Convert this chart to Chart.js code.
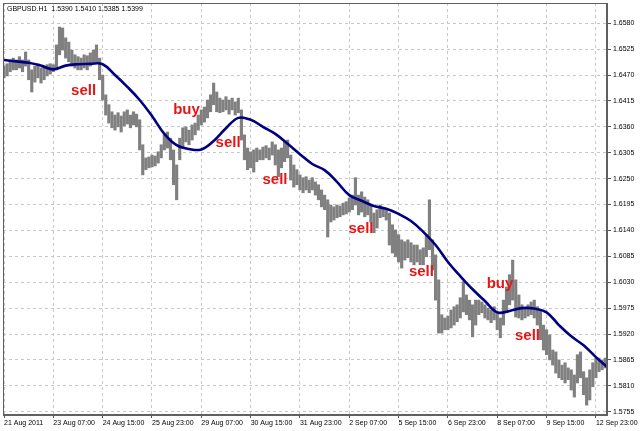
<!DOCTYPE html>
<html>
<head>
<meta charset="utf-8">
<script src="https://cdn.jsdelivr.net/npm/chart.js@4.4.0/dist/chart.umd.min.js"></script>
<style>
  html, body { margin: 0; padding: 0; background: #fff; }
  canvas { display: block; }
</style>
</head>
<body>
<canvas id="chart" width="640" height="431"></canvas>
<script>
// GBPUSD H1, each entry = 2 hourly bars (high / low)
const symbol = 'GBPUSD.H1';
const lastQuote = ['1.5390', '1.5410', '1.5385', '1.5399'];

const timeLabels = ['21 Aug 2011', '23 Aug 07:00', '24 Aug 15:00', '25 Aug 23:00', '29 Aug 07:00',
  '30 Aug 15:00', '31 Aug 23:00', '2 Sep 07:00', '5 Sep 15:00', '6 Sep 23:00', '8 Sep 07:00',
  '9 Sep 15:00', '12 Sep 23:00'];
const labelEvery = 16;

const priceTicks = [1.5755, 1.5810, 1.5865, 1.5920, 1.5975, 1.6030, 1.6085, 1.6140,
  1.6195, 1.6250, 1.6305, 1.6360, 1.6415, 1.6470, 1.6525, 1.6580];

const highs = [
  1.6489, 1.6494, 1.6502, 1.6506, 1.6502, 1.6509, 1.6502, 1.6519, 1.6502, 1.6481,
  1.6489, 1.6494, 1.6485, 1.6489, 1.6492, 1.6494, 1.6492, 1.6534, 1.6572, 1.6570,
  1.6549, 1.6540, 1.6523, 1.6513, 1.6509, 1.6506, 1.6513, 1.6511, 1.6517, 1.6523,
  1.6534, 1.6506, 1.6470, 1.6428, 1.6407, 1.6392, 1.6385, 1.6390, 1.6383, 1.6392,
  1.6396, 1.6385, 1.6392, 1.6387, 1.6375, 1.6322, 1.6294, 1.6296, 1.6300, 1.6298,
  1.6307, 1.6322, 1.6343, 1.6349, 1.6336, 1.6311, 1.6279, 1.6336, 1.6358, 1.6360,
  1.6353, 1.6364, 1.6368, 1.6385, 1.6396, 1.6402, 1.6417, 1.6428, 1.6453, 1.6434,
  1.6421, 1.6417, 1.6424, 1.6417, 1.6421, 1.6413, 1.6421, 1.6396, 1.6343, 1.6315,
  1.6307, 1.6311, 1.6315, 1.6311, 1.6317, 1.6320, 1.6315, 1.6328, 1.6322, 1.6311,
  1.6315, 1.6328, 1.6332, 1.6300, 1.6279, 1.6269, 1.6258, 1.6252, 1.6254, 1.6247,
  1.6252, 1.6243, 1.6237, 1.6226, 1.6215, 1.6205, 1.6194, 1.6190, 1.6194, 1.6192,
  1.6198, 1.6201, 1.6209, 1.6215, 1.6252, 1.6215, 1.6222, 1.6211, 1.6205, 1.6194,
  1.6177, 1.6184, 1.6194, 1.6188, 1.6184, 1.6177, 1.6152, 1.6141, 1.6131, 1.6120,
  1.6116, 1.6120, 1.6114, 1.6109, 1.6109, 1.6099, 1.6103, 1.6131, 1.6205, 1.6120,
  1.6088, 1.6035, 1.5961, 1.5954, 1.5958, 1.5971, 1.5978, 1.5982, 1.5997, 1.6031,
  1.6003, 1.5992, 1.5982, 1.5992, 1.5992, 1.5988, 1.5982, 1.5975, 1.5971, 1.5978,
  1.5967, 1.5954, 1.5992, 1.6020, 1.6046, 1.6077, 1.6035, 1.6003, 1.5982, 1.5975,
  1.5982, 1.5988, 1.5992, 1.5978, 1.5971, 1.5939, 1.5929, 1.5918, 1.5886, 1.5882,
  1.5865, 1.5854, 1.5859, 1.5848, 1.5844, 1.5833, 1.5876, 1.5882, 1.5840, 1.5827,
  1.5844, 1.5859, 1.5869, 1.5869, 1.5865, 1.5869
];
const lows = [
  1.6464, 1.6468, 1.6477, 1.6481, 1.6481, 1.6485, 1.6477, 1.6489, 1.6460, 1.6434,
  1.6455, 1.6464, 1.6453, 1.6460, 1.6468, 1.6472, 1.6477, 1.6485, 1.6513, 1.6523,
  1.6506, 1.6498, 1.6489, 1.6485, 1.6481, 1.6481, 1.6485, 1.6481, 1.6489, 1.6494,
  1.6498, 1.6460, 1.6417, 1.6385, 1.6368, 1.6358, 1.6353, 1.6360, 1.6349, 1.6362,
  1.6366, 1.6358, 1.6364, 1.6360, 1.6311, 1.6258, 1.6269, 1.6273, 1.6275, 1.6277,
  1.6283, 1.6294, 1.6311, 1.6315, 1.6290, 1.6237, 1.6205, 1.6290, 1.6315, 1.6328,
  1.6322, 1.6332, 1.6343, 1.6353, 1.6364, 1.6370, 1.6379, 1.6392, 1.6407, 1.6392,
  1.6390, 1.6392, 1.6396, 1.6387, 1.6396, 1.6385, 1.6390, 1.6332, 1.6290, 1.6269,
  1.6273, 1.6264, 1.6286, 1.6290, 1.6290, 1.6294, 1.6290, 1.6300, 1.6279, 1.6254,
  1.6273, 1.6286, 1.6294, 1.6247, 1.6232, 1.6237, 1.6226, 1.6220, 1.6226, 1.6220,
  1.6226, 1.6215, 1.6205, 1.6190, 1.6184, 1.6126, 1.6158, 1.6162, 1.6167, 1.6169,
  1.6173, 1.6175, 1.6179, 1.6184, 1.6194, 1.6173, 1.6179, 1.6169, 1.6173, 1.6158,
  1.6135, 1.6145, 1.6167, 1.6169, 1.6162, 1.6109, 1.6092, 1.6084, 1.6073, 1.6060,
  1.6077, 1.6082, 1.6073, 1.6067, 1.6073, 1.6067, 1.6067, 1.6084, 1.6099, 1.6056,
  1.5992, 1.5922, 1.5922, 1.5929, 1.5929, 1.5933, 1.5939, 1.5946, 1.5954, 1.5967,
  1.5961, 1.5950, 1.5914, 1.5939, 1.5961, 1.5965, 1.5954, 1.5950, 1.5944, 1.5950,
  1.5929, 1.5912, 1.5939, 1.5965, 1.5982, 1.5992, 1.5956, 1.5954, 1.5950, 1.5954,
  1.5958, 1.5961, 1.5954, 1.5939, 1.5908, 1.5886, 1.5876, 1.5865, 1.5854, 1.5837,
  1.5827, 1.5823, 1.5816, 1.5823, 1.5801, 1.5786, 1.5816, 1.5827, 1.5791, 1.5769,
  1.5780, 1.5808, 1.5827, 1.5840, 1.5844, 1.5848
];

// moving average, one value every 4 entries
const maEvery = 4;
const maValues = [
  1.6502, 1.6499, 1.6496, 1.6490, 1.6482, 1.6490, 1.6493, 1.6494, 1.6493, 1.6470,
  1.6445, 1.6417, 1.6383, 1.6345, 1.6321, 1.6313, 1.6312, 1.6330, 1.6357, 1.6379,
  1.6375, 1.6360, 1.6345, 1.6324, 1.6302, 1.6281, 1.6268, 1.6243, 1.6215, 1.6203,
  1.6192, 1.6186, 1.6175, 1.6160, 1.6137, 1.6109, 1.6073, 1.6043, 1.6015, 1.5990,
  1.5966, 1.5969, 1.5975, 1.5974, 1.5966, 1.5939, 1.5915, 1.5896, 1.5871, 1.5848
];

const signalText = ['sell', 'buy', 'sell', 'sell', 'sell', 'sell', 'buy', 'sell'];
const signalAt = [25.8, 59.2, 72.7, 87.9, 115.8, 135.4, 160.9, 169.8];
const signalPrice = [1.6436, 1.6396, 1.6326, 1.6247, 1.6144, 1.6051, 1.6027, 1.5917];

const FONT = '"Liberation Sans", Arial, sans-serif';

const overlay = {
  id: 'overlay',
  afterDatasetsDraw(chart) {
    const { ctx, chartArea, scales: { x, y } } = chart;
    ctx.save();
    ctx.font = 'bold 15px ' + FONT;
    ctx.fillStyle = '#e81414';
    ctx.textAlign = 'center';
    ctx.textBaseline = 'middle';
    signalText.forEach((t, k) => {
      ctx.fillText(t, x.getPixelForValue(signalAt[k]), y.getPixelForValue(signalPrice[k]));
    });
    ctx.font = '7px ' + FONT;
    ctx.fillStyle = '#000';
    ctx.textAlign = 'left';
    ctx.fillText(symbol + '  ' + lastQuote.join(' '), chartArea.left + 4, chartArea.top + 6);
    ctx.strokeStyle = '#606060';
    ctx.lineWidth = 1;
    ctx.strokeRect(chartArea.left + 0.5, chartArea.top + 0.5, chartArea.width - 1, chartArea.height - 1);
    ctx.restore();
  }
};

new Chart(document.getElementById('chart'), {
  data: {
    datasets: [
      {
        type: 'bar',
        data: highs.map((h, i) => ({ x: i, y: [lows[i], h] })),
        backgroundColor: '#808080',
        borderWidth: 0,
        barThickness: 2.5,
        grouped: false,
        order: 2
      },
      {
        type: 'line',
        data: maValues.map((v, k) => ({ x: k * maEvery, y: v })),
        borderColor: '#000080',
        borderWidth: 2.6,
        pointRadius: 0,
        tension: 0.4,
        order: 1
      }
    ]
  },
  options: {
    responsive: false,
    animation: false,
    devicePixelRatio: 1,
    layout: { padding: { left: 3, top: 3, right: 0, bottom: 0 } },
    plugins: { legend: { display: false }, tooltip: { enabled: false } },
    scales: {
      x: {
        type: 'linear',
        offset: false,
        min: -0.33,
        max: 195.6,
        afterBuildTicks: (s) => { s.ticks = timeLabels.map((_, k) => ({ value: k * labelEvery })); },
        afterFit: (s) => { s.height = 16; s.paddingLeft = 0; s.paddingRight = 0; },
        ticks: {
          callback: (v) => timeLabels[Math.round(v / labelEvery)],
          align: 'start',
          autoSkip: false,
          maxRotation: 0,
          padding: 1,
          color: '#000',
          font: { family: FONT, size: 7 }
        },
        grid: { color: '#c8c8c8', tickColor: '#555', tickLength: 3, offset: false },
        border: { dash: [3, 3], color: '#606060' }
      },
      y: {
        type: 'linear',
        position: 'right',
        min: 1.5748,
        max: 1.6623,
        afterBuildTicks: (s) => { s.ticks = priceTicks.map((v) => ({ value: v })); },
        afterFit: (s) => { s.width = 33; s.paddingTop = 0; s.paddingBottom = 0; },
        ticks: {
          callback: (v) => v.toFixed(4),
          padding: 2,
          color: '#000',
          font: { family: FONT, size: 7 }
        },
        grid: { color: '#c8c8c8', tickColor: '#555', tickLength: 4 },
        border: { dash: [3, 3], color: '#606060' }
      }
    }
  },
  plugins: [overlay]
});
</script>
</body>
</html>
